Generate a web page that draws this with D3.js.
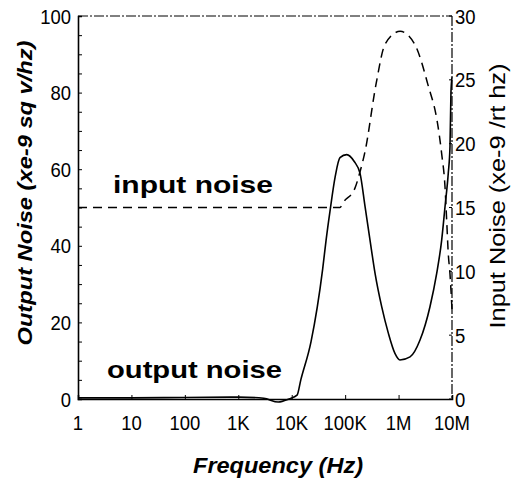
<!DOCTYPE html>
<meta charset="utf-8">
<script src="https://d3js.org/d3.v7.min.js"></script>
<style>
  body { margin: 0; background: #fff; }
  text { fill: #000; }
</style>
<div id="chart"></div>
<script>
// data
var freqTicks = [1, 10, 100, 1e3, 1e4, 1e5, 1e6, 1e7];
var freqLabels = ["1", "10", "100", "1K", "10K", "100K", "1M", "10M"];
var leftTicks = [0, 20, 40, 60, 80, 100];
var rightTicks = [0, 5, 10, 15, 20, 25, 30];

// output noise (solid, left axis)
var outFreq = [1, 10, 100, 1000, 3000, 5600, 8900, 12600, 14800, 23000, 38000, 44000, 52000, 65000, 80000, 107000, 148000, 190000, 236000, 292000, 363000, 483000, 643000, 855000, 1060000, 1640000, 2520000, 3870000, 5170000, 6410000, 7400000, 8510000, 9170000, 9560000, 10000000];
var outVal  = [0.3, 0.3, 0.4, 0.5, 0.2, -0.8, 0, 1, 5, 15, 34, 41.5, 49, 58, 63, 63.8, 62, 58.9, 50.2, 41.5, 32.8, 24.1, 17.2, 11.9, 10.2, 11, 15.4, 24.1, 32.8, 41.5, 50.2, 58.9, 65.9, 80, 84];

// input noise (dashed, right axis)
var inFreq = [1, 80000, 92000, 152000, 190000, 236000, 380000, 560000, 1070000, 2000000, 3500000, 5500000, 6410000, 7400000, 7950000, 8510000, 9170000, 10000000];
var inVal  = [15, 15, 15.4, 16.5, 17.8, 19.4, 24.7, 27.8, 28.8, 27.8, 24.7, 21.3, 19.2, 16.6, 14, 11.4, 9.8, 7];

var W = 518, H = 487;
var margin = {left: 78, right: 452, top: 16, bottom: 399};

var svg = d3.select("#chart").append("svg")
    .attr("width", W).attr("height", H);

var x = d3.scaleLog().domain([1, 1e7]).range([margin.left, margin.right]);
var y = d3.scaleLinear().domain([0, 100]).range([margin.bottom, margin.top]);
var y2 = d3.scaleLinear().domain([0, 30]).range([margin.bottom, margin.top]);

var sans = "'Liberation Sans', Arial, sans-serif";
var squeeze = 0.88; // tick labels in the scan are a condensed face

// frame: top and right are thin dash-dot
svg.append("line").attr("x1", margin.left).attr("x2", margin.right)
  .attr("y1", margin.top).attr("y2", margin.top)
  .attr("stroke", "#000").attr("stroke-width", 1).attr("stroke-dasharray", "10,2,2,2");
svg.append("line").attr("x1", margin.right).attr("x2", margin.right)
  .attr("y1", margin.top).attr("y2", margin.bottom)
  .attr("stroke", "#000").attr("stroke-width", 1.2).attr("stroke-dasharray", "10,2,2,2");

// left axis with inward minor ticks
var yAxis = d3.axisLeft(y).tickValues(d3.range(0, 101, 5)).tickSize(-4).tickFormat("");
var gy = svg.append("g").attr("transform", "translate(" + margin.left + ",0)").call(yAxis);
gy.select(".domain").attr("stroke-width", 1.6);
gy.selectAll(".ytl").data(leftTicks).enter().append("text")
  .attr("transform", d => "translate(-7," + (y(d) + 7.5) + ") scale(" + squeeze + ",1)")
  .attr("text-anchor", "end")
  .style("font-family", sans).style("font-size", "21px")
  .text(d => d);

// bottom axis
var xAxis = d3.axisBottom(x).tickValues(freqTicks).tickSize(-4).tickFormat("");
var gx = svg.append("g").attr("transform", "translate(0," + margin.bottom + ")").call(xAxis);
gx.select(".domain").attr("stroke-width", 1.6);
gx.selectAll(".xtl").data(freqTicks).enter().append("text")
  .attr("transform", d => "translate(" + x(d) + ",31) scale(" + squeeze + ",1)")
  .attr("text-anchor", "middle")
  .style("font-family", sans).style("font-size", "21px")
  .text((d, i) => freqLabels[i]);

// right axis labels
var g2 = svg.append("g").attr("transform", "translate(" + margin.right + ",0)");
g2.selectAll("line").data(rightTicks).enter().append("line")
  .attr("x1", 0).attr("x2", -3).attr("y1", d => y2(d)).attr("y2", d => y2(d))
  .attr("stroke", "#000");
g2.selectAll("text").data(rightTicks).enter().append("text")
  .attr("transform", d => "translate(3," + (y2(d) + 7.5) + ") scale(" + squeeze + ",1)")
  .style("font-family", sans).style("font-size", "21px")
  .text(d => d);

// curves
var outLine = d3.line().curve(d3.curveMonotoneX)
  .x(d => x(d[0])).y(d => y(d[1]));
svg.append("path")
  .datum(outFreq.map((f, i) => [f, outVal[i]]))
  .attr("d", outLine)
  .attr("fill", "none").attr("stroke", "#000").attr("stroke-width", 1.6);

var inLine = d3.line().curve(d3.curveMonotoneX)
  .x(d => x(d[0])).y(d => y2(d[1]));
svg.append("path")
  .datum(inFreq.map((f, i) => [f, inVal[i]]))
  .attr("d", inLine)
  .attr("fill", "none").attr("stroke", "#000").attr("stroke-width", 1.5)
  .attr("stroke-dasharray", "9,6");

// axis titles
svg.append("text")
  .attr("transform", "translate(32,193) rotate(-90)")
  .attr("text-anchor", "middle")
  .attr("textLength", 305).attr("lengthAdjust", "spacingAndGlyphs")
  .style("font-family", sans)
  .style("font-size", "20px").style("font-weight", "bold").style("font-style", "italic")
  .text("Output Noise (xe-9 sq v/hz)");

svg.append("text")
  .attr("transform", "translate(505,196) rotate(-90)")
  .attr("text-anchor", "middle")
  .attr("textLength", 265).attr("lengthAdjust", "spacingAndGlyphs")
  .style("font-family", sans)
  .style("font-size", "22px")
  .text("Input Noise (xe-9 /rt hz)");

svg.append("text")
  .attr("x", 278).attr("y", 473)
  .attr("text-anchor", "middle")
  .attr("textLength", 170).attr("lengthAdjust", "spacingAndGlyphs")
  .style("font-family", sans)
  .style("font-size", "22px").style("font-weight", "bold").style("font-style", "italic")
  .text("Frequency (Hz)");

// curve labels
svg.append("text")
  .attr("x", 113).attr("y", 193)
  .attr("textLength", 160).attr("lengthAdjust", "spacingAndGlyphs")
  .style("font-family", sans)
  .style("font-size", "24px").style("font-weight", "bold")
  .text("input noise");

svg.append("text")
  .attr("x", 107).attr("y", 378)
  .attr("textLength", 175).attr("lengthAdjust", "spacingAndGlyphs")
  .style("font-family", sans)
  .style("font-size", "24px").style("font-weight", "bold")
  .text("output noise");
</script>
